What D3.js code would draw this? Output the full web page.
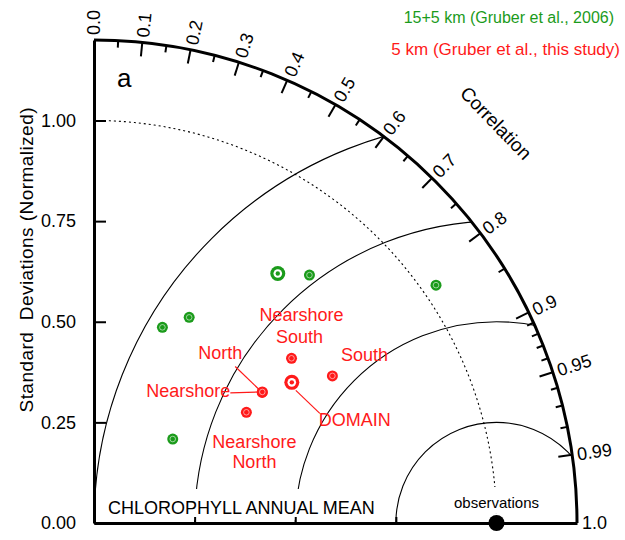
<!DOCTYPE html>
<html>
<head>
<meta charset="utf-8">
<script src="https://cdn.jsdelivr.net/npm/d3@7"></script>
<style>
  body { margin: 0; background: #fff; }
  text { font-family: "Liberation Sans", Arial, Helvetica, sans-serif; }
</style>
</head>
<body>
<div id="mainDiv"></div>
<script>
// 15+5 km run (Gruber et al., 2006), normalized std + correlation
const oldStd  = [0.770, 0.816, 1.035, 0.563, 0.515, 0.286];
const oldCorr = [0.593, 0.656, 0.821, 0.420, 0.330, 0.684];
const oldBig  = [true, false, false, false, false, false];

// 5 km run (this study)
const newNames = ["DOMAIN", "Nearshore South", "South", "North", "Nearshore", "Nearshore North"];
const newStd   = [0.603, 0.639, 0.696, 0.529, 0.530, 0.468];
const newCorr  = [0.815, 0.768, 0.851, 0.790, 0.789, 0.809];
const newBig   = [true, false, false, false, false, false];

// axis stuff
const sdTicks    = [0, 0.25, 0.5, 0.75, 1.0];
const rmsRings   = [0.25, 0.5, 0.75, 1.0];
const corrMajor  = [0.1, 0.2, 0.3, 0.4, 0.5, 0.6, 0.7, 0.8, 0.9, 0.95, 0.99];
const corrMinor  = [0.05, 0.15, 0.25, 0.35, 0.45, 0.55, 0.65, 0.75, 0.85,
                    0.91, 0.92, 0.93, 0.94, 0.96, 0.97, 0.98];
const corrLabels = [0.0, 0.1, 0.2, 0.3, 0.4, 0.5, 0.6, 0.7, 0.8, 0.9, 0.95, 0.99, 1.0];

const maxSd = 1.2, obsSd = 1.0;
const green = "#1b9b1b", red = "#ff1a1a";

// label placement for the red points (offsets from the point, px)
const labelPos = {
  "DOMAIN":          {lines: [[63, 37]], lead: [[4, 8], [28, 31]]},
  "Nearshore South": {lines: [[10, -44], [8, -22]]},
  "South":           {lines: [[32, -21]]},
  "North":           {lines: [[-42, -40]], lead: [[0, 0], [-27, -26]]},
  "Nearshore":       {lines: [[-74, -1]], lead: [[0, 0], [-32, 1]]},
  "Nearshore North": {lines: [[8, 29], [8, 49]]}
};

const width = 625, height = 540;
const ox = 94, oy = 523;   // origin of the diagram
const R = 483;             // px for maxSd

let svg = d3.select("#mainDiv").append("svg")
            .attr("width", width)
            .attr("height", height);

let r = d3.scaleLinear().domain([0, maxSd]).range([0, R]);
let xScale = d3.scaleLinear().domain([0, maxSd]).range([ox, ox + R]);
let yScale = d3.scaleLinear().domain([0, maxSd]).range([oy, oy - R]);

function px(sd, c) { return xScale(sd * c); }
function py(sd, c) { return yScale(sd * Math.sqrt(1 - c * c)); }

let g = svg.append("g");

// clip = quarter disc
let clipPath = d3.path();
clipPath.moveTo(ox, oy);
clipPath.lineTo(ox, oy - R);
clipPath.arc(ox, oy, R, -Math.PI / 2, 0);
clipPath.closePath();
svg.append("clipPath").attr("id", "quarter")
   .append("path").attr("d", clipPath.toString());

// RMS arcs around the observation point
g.append("g").attr("clip-path", "url(#quarter)")
  .selectAll("path")
  .data(rmsRings)
  .enter().append("path")
    .attr("d", function(d) {
      let p = d3.path();
      p.arc(xScale(obsSd), oy, r(d), -Math.PI, 0);
      return p.toString();
    })
    .attr("fill", "none")
    .attr("stroke", "#000")
    .attr("stroke-width", 1.1);

// dotted std arc at obs
let dot = d3.path();
dot.arc(ox, oy, r(obsSd), -Math.PI / 2, 0);
g.append("path")
  .attr("d", dot.toString())
  .attr("fill", "none")
  .attr("stroke", "#000")
  .attr("stroke-width", 1.1)
  .attr("stroke-dasharray", "2,3");

// white boxes behind the bottom texts (like R's legend bg)
g.append("rect").attr("x", 102).attr("y", 489).attr("width", 280).attr("height", 31).attr("fill", "#fff");
g.append("rect").attr("x", 448).attr("y", 487).attr("width", 98).attr("height", 26).attr("fill", "#fff");

g.append("text")
  .attr("x", 108).attr("y", 514)
  .attr("font-size", 18)
  .text("CHLOROPHYLL ANNUAL MEAN");

g.append("text")
  .attr("x", xScale(obsSd)).attr("y", 508)
  .attr("text-anchor", "middle")
  .attr("font-size", 15)
  .text("observations");

// outer arc
let outer = d3.path();
outer.arc(ox, oy, R, -Math.PI / 2, 0);
g.append("path")
  .attr("d", outer.toString())
  .attr("fill", "none")
  .attr("stroke", "#000")
  .attr("stroke-width", 3);

// correlation ticks
function corrTick(sel, len) {
  sel.attr("x1", function(d) { return ox + R * d; })
     .attr("y1", function(d) { return oy - R * Math.sqrt(1 - d * d); })
     .attr("x2", function(d) { return ox + (R - len) * d; })
     .attr("y2", function(d) { return oy - (R - len) * Math.sqrt(1 - d * d); })
     .attr("stroke", "#000")
     .attr("stroke-width", 2);
}
g.selectAll(".majTick").data(corrMajor).enter().append("line")
  .attr("class", "majTick").call(corrTick, 14);
g.selectAll(".minTick").data(corrMinor).enter().append("line")
  .attr("class", "minTick").call(corrTick, 7);

// correlation labels
g.selectAll(".corrLab")
  .data(corrLabels)
  .enter().append("text")
    .attr("class", "corrLab")
    .attr("transform", function(d) {
      let th = Math.acos(d);
      return "translate(" + (ox + (R + 5) * Math.cos(th)) + "," + (oy - (R + 5) * Math.sin(th)) + ")"
           + " rotate(" + (-th * 180 / Math.PI) + ")";
    })
    .attr("dy", "0.35em")
    .attr("font-size", 18)
    .text(function(d) { return (d === 0 || d === 1) ? d.toFixed(1) : String(d); });

g.append("text")
  .attr("transform", "translate(496,123) rotate(46)")
  .attr("text-anchor", "middle")
  .attr("dy", "0.35em")
  .attr("font-size", 19)
  .text("Correlation");

// y axis
let yAxis = g.append("g")
  .attr("transform", "translate(" + ox + ",0)")
  .call(d3.axisLeft(yScale)
          .tickValues(sdTicks)
          .tickSize(-12)
          .tickSizeOuter(0)
          .tickPadding(18)
          .tickFormat(d3.format(".2f")));
yAxis.attr("font-family", null).attr("font-size", 18);
yAxis.select(".domain").attr("stroke-width", 3);
yAxis.selectAll(".tick line").attr("stroke-width", 2);

// x axis (ticks where rms arcs land)
let xAxis = g.append("g")
  .attr("transform", "translate(0," + oy + ")")
  .call(d3.axisBottom(xScale)
          .tickValues(rmsRings.slice(0, 3).map(function(d) { return obsSd - d; }))
          .tickSize(-6)
          .tickSizeOuter(0)
          .tickFormat(""));
xAxis.select(".domain").attr("stroke-width", 3);
xAxis.selectAll(".tick line").attr("stroke-width", 2);

g.append("text")
  .attr("transform", "translate(33,260) rotate(-90)")
  .attr("text-anchor", "middle")
  .attr("font-size", 19)
  .attr("textLength", 305)
  .attr("lengthAdjust", "spacing")
  .style("white-space", "pre")
  .text("Standard  Deviations (Normalized)");

g.append("text")
  .attr("x", 117).attr("y", 87)
  .attr("font-size", 26)
  .text("a");

// observation point
g.append("circle")
  .attr("cx", xScale(obsSd)).attr("cy", oy)
  .attr("r", 8).attr("fill", "#000");

// red annotation lines + labels
let ann = g.append("g").attr("fill", red);
newNames.forEach(function(name, i) {
  let lp = labelPos[name];
  let x0 = px(newStd[i], newCorr[i]), y0 = py(newStd[i], newCorr[i]);
  if (lp.lead) {
    ann.append("line")
      .attr("x1", x0 + lp.lead[0][0]).attr("y1", y0 + lp.lead[0][1])
      .attr("x2", x0 + lp.lead[1][0]).attr("y2", y0 + lp.lead[1][1])
      .attr("stroke", red).attr("stroke-width", 1.2);
  }
  let words = lp.lines.length > 1 ? name.split(" ") : [name];
  lp.lines.forEach(function(o, k) {
    ann.append("text")
      .attr("x", x0 + o[0]).attr("y", y0 + o[1])
      .attr("dy", "0.35em")
      .attr("text-anchor", "middle")
      .attr("font-size", 18)
      .text(words[k]);
  });
});

// symbols
function drawPts(std, corr, big, col) {
  let pts = g.append("g").selectAll("g")
    .data(std.map(function(s, i) { return {s: s, c: corr[i], big: big[i]}; }))
    .enter().append("g")
      .attr("transform", function(d) { return "translate(" + px(d.s, d.c) + "," + py(d.s, d.c) + ")"; });
  pts.append("circle")
    .attr("r", function(d) { return d.big ? 7.5 : 5.5; })
    .attr("fill", col);
  pts.append("circle")
    .attr("r", function(d) { return d.big ? 4.3 : 2.8; })
    .attr("fill", function(d) { return d.big ? "#fff" : "none"; })
    .attr("stroke", "#fff")
    .attr("stroke-opacity", function(d) { return d.big ? 1 : 0.7; })
    .attr("stroke-width", function(d) { return d.big ? 0 : 0.8; });
  pts.filter(function(d) { return d.big; })
    .append("circle").attr("r", 2.2).attr("fill", col);
}
drawPts(oldStd, oldCorr, oldBig, green);
drawPts(newStd, newCorr, newBig, red);

// legend text top right
g.append("text")
  .attr("x", 614).attr("y", 23)
  .attr("text-anchor", "end")
  .attr("font-size", 16)
  .attr("fill", green)
  .text("15+5 km (Gruber et al., 2006)");
g.append("text")
  .attr("x", 620).attr("y", 55)
  .attr("text-anchor", "end")
  .attr("font-size", 17)
  .attr("fill", red)
  .text("5 km (Gruber et al., this study)");
</script>
</body>
</html>
